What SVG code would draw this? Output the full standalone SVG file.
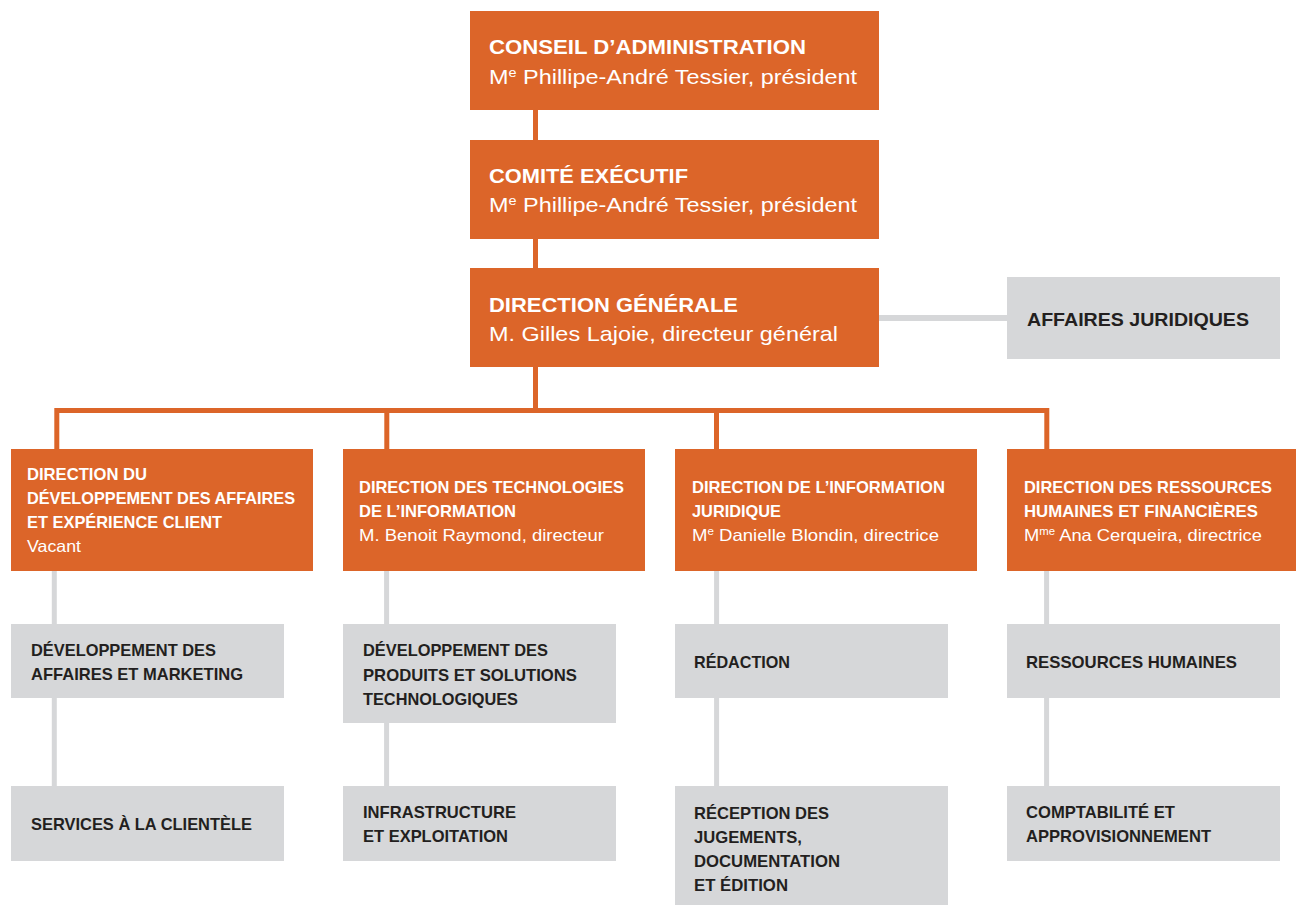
<svg xmlns="http://www.w3.org/2000/svg" width="1296" height="905" viewBox="0 0 1296 905">
<style>
.o{fill:#DC6529}
.g{fill:#D6D7D9}
text{font-family:"Liberation Sans Narrow","Liberation Sans",Arial,sans-serif}
.tt{font-size:21px;font-weight:bold;fill:#fff}
.ts{font-size:21px;fill:#fff}
.dt{font-size:16.5px;font-weight:bold;fill:#fff}
.ds{font-size:16.5px;fill:#fff}
.gt{font-size:17px;font-weight:bold;fill:#231F20}
.sup{font-size:62%}
.oc{stroke:#DC6529;stroke-width:5;fill:none}
.gc{stroke:#D6D7D9;stroke-width:5;fill:none}
</style>
<rect width="1296" height="905" fill="#fff"/>
<g id="connectors">
<path class="oc" d="M535.5 110V140M535.5 239V268M535.5 367V410.5M56.8 410.5H1046.8M56.8 408V449M386.8 408V449M716.5 408V449M1046.8 408V449"/>
<path class="gc" d="M879 318H1007" style="stroke-width:6"/>
<path class="gc" d="M54.3 571V624M54.3 698V786M386.6 571V624M386.6 723V786M716.6 571V624M716.6 698V786M1046.6 571V624M1046.6 698V786"/>
</g>
<g id="conseil">
<rect class="o" x="470" y="11" width="409" height="99"/>
<text class="tt" x="489" y="54" textLength="317" lengthAdjust="spacingAndGlyphs">CONSEIL D’ADMINISTRATION</text>
<text class="ts" x="489" y="84" textLength="368" lengthAdjust="spacingAndGlyphs">M<tspan class="sup" dy="-7">e</tspan><tspan dy="7"> Phillipe-André Tessier, président</tspan></text>
</g>
<g id="comite">
<rect class="o" x="470" y="140" width="409" height="99"/>
<text class="tt" x="489" y="183" textLength="199" lengthAdjust="spacingAndGlyphs">COMITÉ EXÉCUTIF</text>
<text class="ts" x="489" y="212" textLength="368" lengthAdjust="spacingAndGlyphs">M<tspan class="sup" dy="-7">e</tspan><tspan dy="7"> Phillipe-André Tessier, président</tspan></text>
</g>
<g id="direction-generale">
<rect class="o" x="470" y="268" width="409" height="99"/>
<text class="tt" x="489" y="312" textLength="249" lengthAdjust="spacingAndGlyphs">DIRECTION GÉNÉRALE</text>
<text class="ts" x="489" y="341" textLength="349" lengthAdjust="spacingAndGlyphs">M. Gilles Lajoie, directeur général</text>
</g>
<g id="affaires-juridiques">
<rect class="g" x="1007" y="277" width="273" height="82"/>
<text class="gt" x="1027" y="326" font-size="18" style="font-size:18px" textLength="222" lengthAdjust="spacingAndGlyphs">AFFAIRES JURIDIQUES</text>
</g>
<g id="dir-dev">
<rect class="o" x="11" y="449" width="302" height="122"/>
<text class="dt" x="27" y="480" textLength="120" lengthAdjust="spacingAndGlyphs">DIRECTION DU</text>
<text class="dt" x="27" y="504" textLength="268" lengthAdjust="spacingAndGlyphs">DÉVELOPPEMENT DES AFFAIRES</text>
<text class="dt" x="27" y="528" textLength="195" lengthAdjust="spacingAndGlyphs">ET EXPÉRIENCE CLIENT</text>
<text class="ds" x="27" y="552" textLength="54" lengthAdjust="spacingAndGlyphs">Vacant</text>
</g>
<g id="dir-ti">
<rect class="o" x="343" y="449" width="302" height="122"/>
<text class="dt" x="359" y="493" textLength="265" lengthAdjust="spacingAndGlyphs">DIRECTION DES TECHNOLOGIES</text>
<text class="dt" x="359" y="517" textLength="157" lengthAdjust="spacingAndGlyphs">DE L’INFORMATION</text>
<text class="ds" x="359" y="541" textLength="245" lengthAdjust="spacingAndGlyphs">M. Benoit Raymond, directeur</text>
</g>
<g id="dir-info">
<rect class="o" x="675" y="449" width="302" height="122"/>
<text class="dt" x="692" y="493" textLength="253" lengthAdjust="spacingAndGlyphs">DIRECTION DE L’INFORMATION</text>
<text class="dt" x="692" y="517" textLength="89" lengthAdjust="spacingAndGlyphs">JURIDIQUE</text>
<text class="ds" x="692" y="541" textLength="247" lengthAdjust="spacingAndGlyphs">M<tspan class="sup" dy="-6">e</tspan><tspan dy="6"> Danielle Blondin, directrice</tspan></text>
</g>
<g id="dir-rh">
<rect class="o" x="1007" y="449" width="302" height="122"/>
<text class="dt" x="1024" y="493" textLength="248" lengthAdjust="spacingAndGlyphs">DIRECTION DES RESSOURCES</text>
<text class="dt" x="1024" y="517" textLength="234" lengthAdjust="spacingAndGlyphs">HUMAINES ET FINANCIÈRES</text>
<text class="ds" x="1024" y="541" textLength="238" lengthAdjust="spacingAndGlyphs">M<tspan class="sup" dy="-6">me</tspan><tspan dy="6"> Ana Cerqueira, directrice</tspan></text>
</g>
<g id="dev-affaires">
<rect class="g" x="11" y="624" width="273" height="74"/>
<text class="gt" x="31" y="656" textLength="185" lengthAdjust="spacingAndGlyphs">DÉVELOPPEMENT DES</text>
<text class="gt" x="31" y="680" textLength="212" lengthAdjust="spacingAndGlyphs">AFFAIRES ET MARKETING</text>
</g>
<g id="services-clientele">
<rect class="g" x="11" y="786" width="273" height="75"/>
<text class="gt" x="31" y="830" textLength="221" lengthAdjust="spacingAndGlyphs">SERVICES À LA CLIENTÈLE</text>
</g>
<g id="dev-produits">
<rect class="g" x="343" y="624" width="273" height="99"/>
<text class="gt" x="363" y="656" textLength="185" lengthAdjust="spacingAndGlyphs">DÉVELOPPEMENT DES</text>
<text class="gt" x="363" y="681" textLength="214" lengthAdjust="spacingAndGlyphs">PRODUITS ET SOLUTIONS</text>
<text class="gt" x="363" y="705" textLength="155" lengthAdjust="spacingAndGlyphs">TECHNOLOGIQUES</text>
</g>
<g id="infrastructure">
<rect class="g" x="343" y="786" width="273" height="75"/>
<text class="gt" x="363" y="818" textLength="153" lengthAdjust="spacingAndGlyphs">INFRASTRUCTURE</text>
<text class="gt" x="363" y="842" textLength="145" lengthAdjust="spacingAndGlyphs">ET EXPLOITATION</text>
</g>
<g id="redaction">
<rect class="g" x="675" y="624" width="273" height="74"/>
<text class="gt" x="694" y="668" textLength="96" lengthAdjust="spacingAndGlyphs">RÉDACTION</text>
</g>
<g id="reception">
<rect class="g" x="675" y="786" width="273" height="119"/>
<text class="gt" x="694" y="819" textLength="135" lengthAdjust="spacingAndGlyphs">RÉCEPTION DES</text>
<text class="gt" x="694" y="843" textLength="108" lengthAdjust="spacingAndGlyphs">JUGEMENTS,</text>
<text class="gt" x="694" y="867" textLength="146" lengthAdjust="spacingAndGlyphs">DOCUMENTATION</text>
<text class="gt" x="694" y="891" textLength="94" lengthAdjust="spacingAndGlyphs">ET ÉDITION</text>
</g>
<g id="ressources-humaines">
<rect class="g" x="1007" y="624" width="273" height="74"/>
<text class="gt" x="1026" y="668" textLength="211" lengthAdjust="spacingAndGlyphs">RESSOURCES HUMAINES</text>
</g>
<g id="comptabilite">
<rect class="g" x="1007" y="786" width="273" height="75"/>
<text class="gt" x="1026" y="818" textLength="149" lengthAdjust="spacingAndGlyphs">COMPTABILITÉ ET</text>
<text class="gt" x="1026" y="842" textLength="185" lengthAdjust="spacingAndGlyphs">APPROVISIONNEMENT</text>
</g>
</svg>
